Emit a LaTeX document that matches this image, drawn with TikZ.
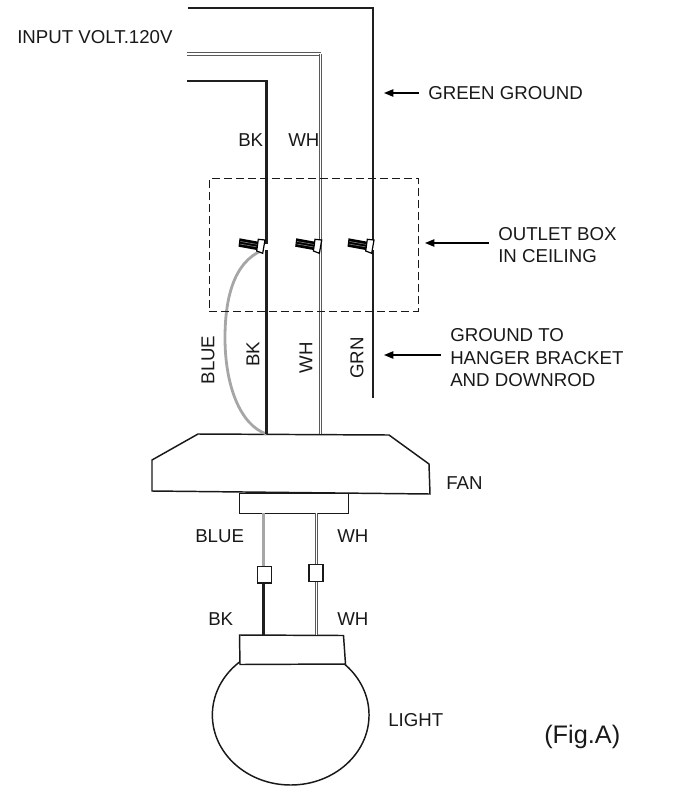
\documentclass[tikz,border=0pt]{standalone}
\usepackage{fontspec}
\setmainfont{Liberation Sans}
\usepackage{tikz}
\usetikzlibrary{shapes, arrows.meta, positioning, calc}
\tikzset{
    lbl/.style={inner sep=0pt, font=\fontsize{14pt}{16.9pt}\selectfont, text=black!90, align=left},
    rotlbl/.style={lbl, rotate=90},
    arrow/.style={line width=1pt, -{Triangle[length=7pt, width=5.5pt]}, shorten <=7pt},
    blackwire/.style={line width=2.1pt, black!88, line join=miter},
    whitewire/.style={line width=2.4pt, black!65, line join=miter, postaction={draw, white, line width=1pt}},
    bluewire/.style={line width=2.1pt, black!35},
    outline/.style={draw, line width=1.1pt, black!90, fill=white, line join=miter},
    crimp/.style={outline, line width=0.8pt, minimum width=10.5pt, minimum height=12.7pt, inner sep=0pt},
    nut/.pic={
        \fill[black] (-20,-5.7) -- (-1.2,-2.3) -- (-2.8,6) -- (-21,2.7) -- cycle;
        \draw[black!45, line width=0.4pt] (-19,-2.5) -- (-1.8,0.5) (-19.5,0) -- (-2.2,3);
        \draw[black, line width=0.9pt, fill=white] (-1.2,-4.7) -- (5.5,-4) -- (3.2,9.3) -- (-2.8,7) -- cycle;
    }
}
\begin{document}
\begin{tikzpicture}[x=0.75pt, y=-0.75pt]
    \useasboundingbox (0,0) rectangle (675,789);

    % fixture outlines
    \draw[outline] (198,434) -- (389,435) -- (429,464) -- (430,494) -- (152,491) -- (152,460) -- cycle;
    \node[outline, minimum width=82pt, minimum height=15pt, inner sep=0pt] (canopy) at (294,503.5) {};
    \node[outline, ellipse, minimum width=117.5pt, minimum height=105pt, inner sep=0pt] (globe) at (290.7,715) {};
    \draw[outline] (239.5,635) -- (343.5,635.5) -- (345.5,664) -- (240,664.5) -- cycle;

    % junction points
    \coordinate (hotin) at (187,81);
    \coordinate (hotcorner) at (266.5,81);
    \coordinate (hotnut) at (266.5,244);
    \coordinate (hotout) at (266.5,250);
    \coordinate (hotfan) at (266.5,434);
    \coordinate (neuin) at (187,54);
    \coordinate (neucorner) at (320.5,54);
    \coordinate (neufan) at (320.5,434);
    \coordinate (gndin) at (188,8);
    \coordinate (gndcorner) at (373,8);
    \coordinate (gndnut) at (373,244);
    \coordinate (gndout) at (373,250);
    \coordinate (gndend) at (373,398);
    \coordinate (bluenut) at (263,250);

    % house wires
    \draw[blackwire] (gndin) -- (gndcorner) -- (gndnut);
    \draw[blackwire] (gndout) -- (gndend);
    \draw[whitewire] (neuin) -- (neucorner);
    \draw[whitewire] (neucorner) -- (neufan);
    \draw[blackwire] (hotin) -- (hotcorner) -- (hotnut);
    \draw[bluewire] (bluenut) .. controls (233,262) and (225,300) .. (225,338) .. controls (225,385) and (240,425) .. (hotfan);
    \draw[blackwire] (hotout) -- (hotfan);

    % wire nuts
    \path (259.5,244) pic {nut};
    \path (316.2,244) pic {nut};
    \path (368.5,244) pic {nut};

    % outlet box
    \node[draw, line width=1pt, black!90, dash pattern=on 6pt off 3pt, minimum width=156.8pt, minimum height=99.3pt, inner sep=0pt] (outlet) at (313.8,245) {};

    % wires below the fan
    \node[crimp] (crimpblue) at (264.7,574.5) {};
    \node[crimp] (crimpwhite) at (316,573) {};
    \coordinate (canblue) at (263.3,513);
    \coordinate (canwhite) at (316.5,513);
    \coordinate (lampblack) at (263.3,635);
    \coordinate (lampwhite) at (316.5,635);
    \draw[bluewire] (canblue) -- (canblue |- crimpblue.north);
    \draw[blackwire] (lampblack |- crimpblue.south) -- (lampblack);
    \draw[whitewire] (canwhite) -- (canwhite |- crimpwhite.north);
    \draw[whitewire] (lampwhite |- crimpwhite.south) -- (lampwhite);

    % labels
    \node[lbl, anchor=west] (input) at (17,37) {INPUT VOLT.120V};
    \node[lbl, anchor=west] (bkup) at (238,140) {BK};
    \node[lbl, anchor=west] (whup) at (288,140) {WH};
    \node[lbl, anchor=west] (greenlbl) at (428,93) {GREEN GROUND};
    \node[lbl, anchor=west] (outletlbl) at (498,245) {OUTLET BOX\\IN CEILING};
    \node[lbl, anchor=west] (groundlbl) at (450,358) {GROUND TO\\HANGER BRACKET\\AND DOWNROD};
    \node[rotlbl] (bluelbl) at (208,360) {BLUE};
    \node[rotlbl] (bklbl) at (253,354) {BK};
    \node[rotlbl] (whlbl) at (306,358) {WH};
    \node[rotlbl] (grnlbl) at (357,358) {GRN};
    \node[lbl, anchor=west] (fanlbl) at (446,483) {FAN};
    \node[lbl, anchor=west] (bluelow) at (195,536) {BLUE};
    \node[lbl, anchor=west] (whlow) at (337,536) {WH};
    \node[lbl, anchor=west] (bklamp) at (208,619) {BK};
    \node[lbl, anchor=west] (whlamp) at (337,619) {WH};
    \node[lbl, anchor=west] (lightlbl) at (388,720) {LIGHT};
    \node[lbl, anchor=west, font=\fontsize{19pt}{22pt}\selectfont] (figlbl) at (544,737) {(Fig.A)};

    % pointers
    \coordinate (greentip) at (384,93);
    \coordinate (outlettip) at (425,243);
    \coordinate (groundtip) at (384,355);
    \draw[arrow] (greenlbl.west |- greentip) -- (greentip);
    \draw[arrow] (outletlbl.west |- outlettip) -- (outlettip);
    \draw[arrow] (groundlbl.west |- groundtip) -- (groundtip);
\end{tikzpicture}
\end{document}
